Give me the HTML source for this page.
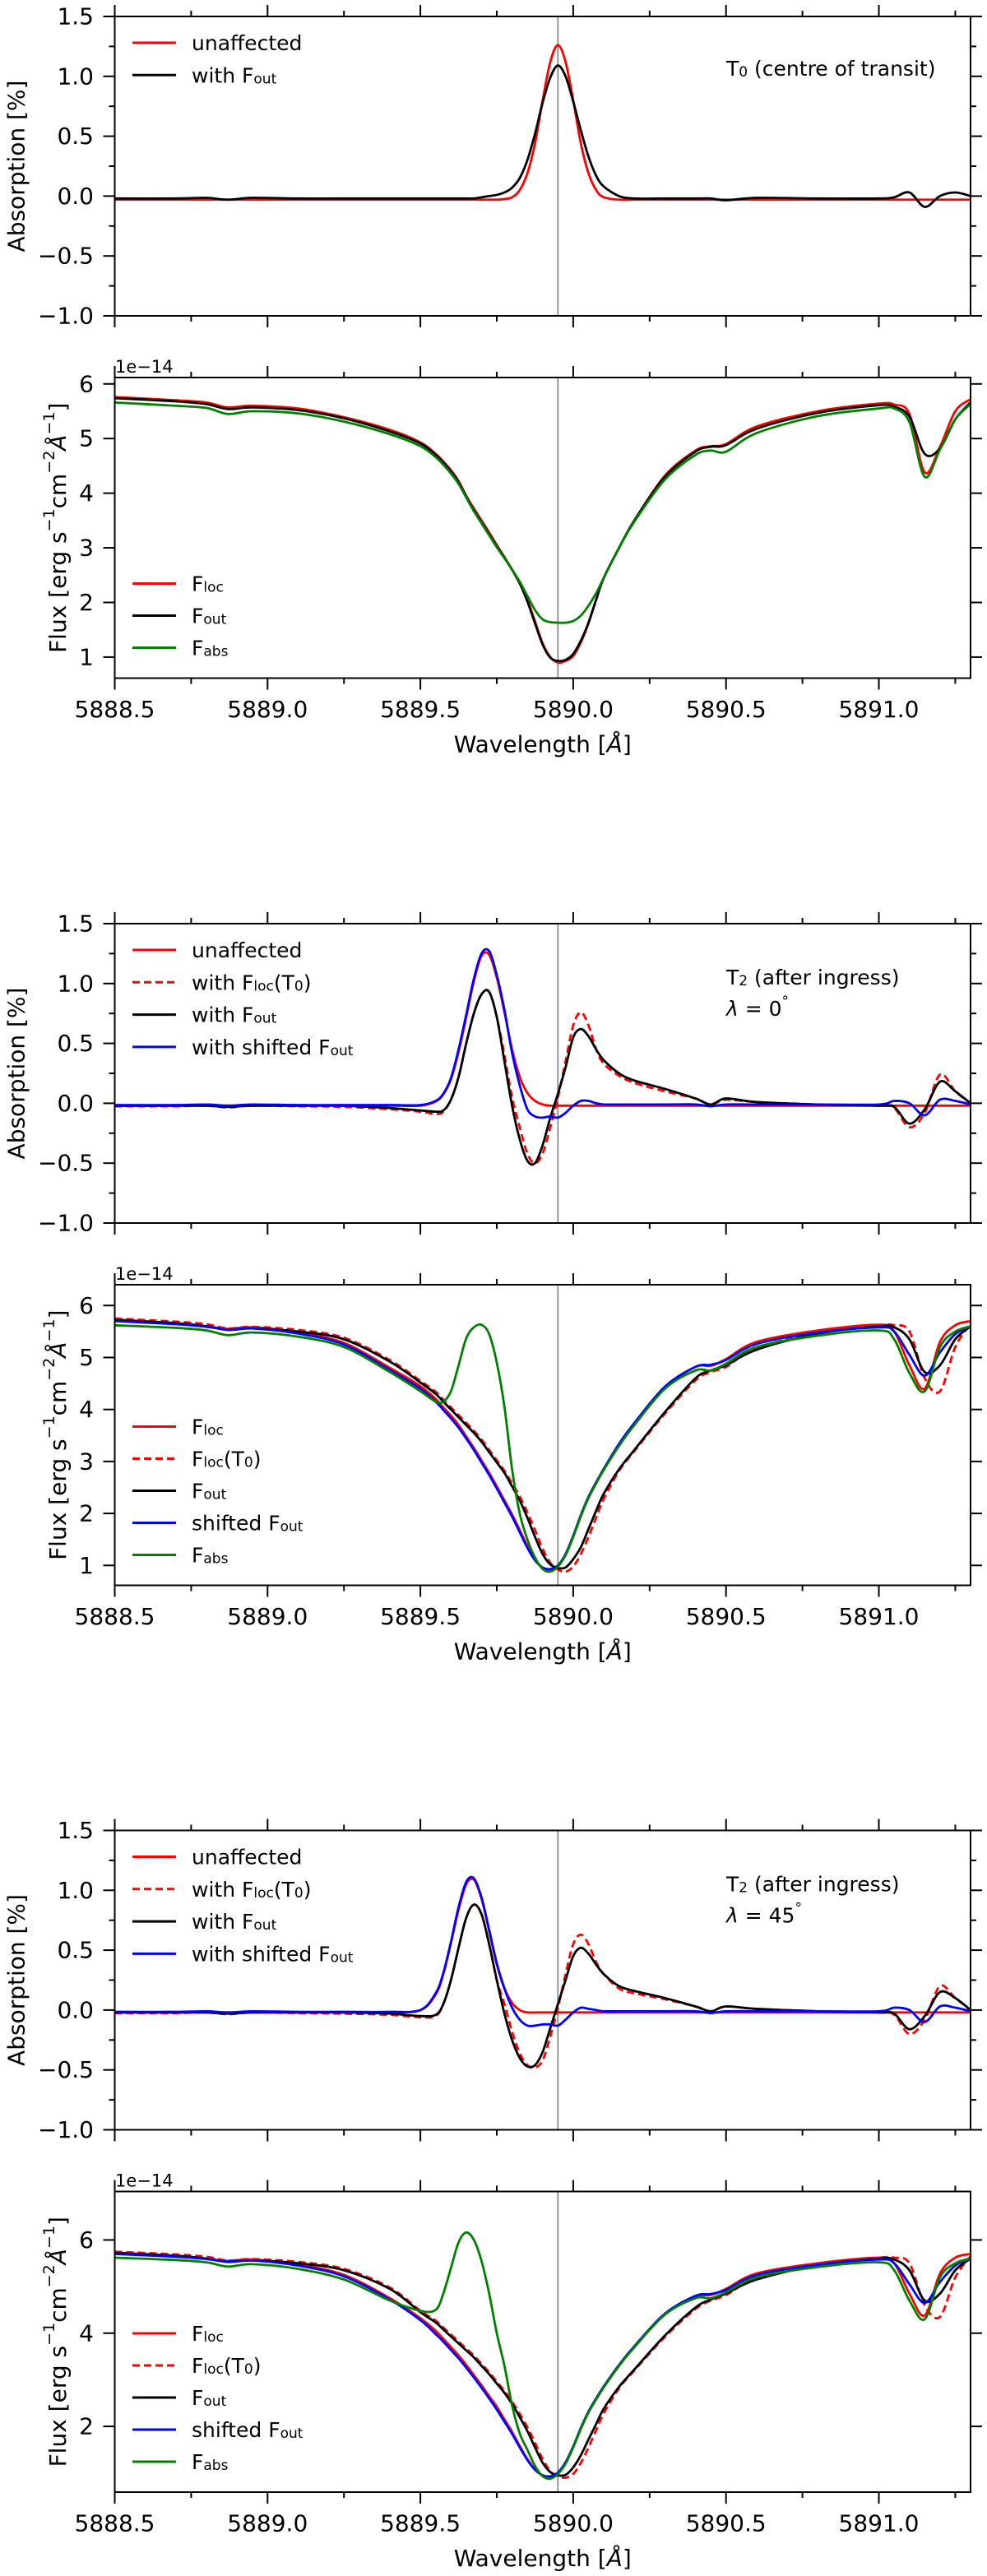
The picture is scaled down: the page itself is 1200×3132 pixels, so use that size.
<!DOCTYPE html>
<html><head><meta charset="utf-8"><title>Absorption and flux spectra</title>
<style>
html,body{margin:0;padding:0;background:#fff;}
svg{display:block;font-family:"DejaVu Sans","Liberation Sans",sans-serif;}
</style></head>
<body>
<svg id="fig" width="1200" height="3132" viewBox="0 0 1200 3132" xmlns="http://www.w3.org/2000/svg"></svg>
<script>
// ---------- data ----------
const wl = [5888.5,5888.7,5888.8,5888.87,5888.95,5889.1,5889.25,5889.4,5889.5,5889.55,
 5889.575,5889.6,5889.625,5889.65,5889.675,5889.7,5889.725,5889.75,5889.775,5889.8,
 5889.825,5889.85,5889.875,5889.9,5889.925,5889.95,5889.975,5890.0,5890.025,5890.05,
 5890.075,5890.1,5890.15,5890.2,5890.3,5890.4,5890.45,5890.5,5890.6,5890.8,
 5891.0,5891.05,5891.1,5891.15,5891.2,5891.25,5891.3];
const xTickMajor = [5888.5,5889.0,5889.5,5890.0,5890.5,5891.0];
const xTickLabels = ["5888.5","5889.0","5889.5","5890.0","5890.5","5891.0"];
const absTicks = [-1.0,-0.5,0.0,0.5,1.0,1.5];
const absTickLabels = ["\u22121.0","\u22120.5","0.0","0.5","1.0","1.5"];
const fluxTicksA = [1,2,3,4,5,6];
const fluxTicksB = [2,4,6];
const markerWl = 5889.95;

// panel 1 (T0)
const p1Unaffected = [-0.03,-0.03,-0.03,-0.03,-0.03,-0.03,-0.03,-0.03,-0.03,-0.03,
 -0.03,-0.03,-0.03,-0.03,-0.03,-0.03,-0.03,-0.03,-0.025,-0.01,
 0.05,0.19,0.44,0.80,1.12,1.26,1.12,0.80,0.44,0.19,
 0.05,-0.01,-0.03,-0.03,-0.03,-0.03,-0.03,-0.03,-0.03,-0.03,
 -0.03,-0.03,-0.03,-0.03,-0.03,-0.03,-0.03];
const p1Fout = [-0.02,-0.02,-0.015,-0.03,-0.015,-0.02,-0.02,-0.02,-0.02,-0.02,
 -0.02,-0.02,-0.02,-0.02,-0.02,-0.01,0.0,0.01,0.03,0.07,
 0.15,0.30,0.52,0.78,0.99,1.09,1.00,0.79,0.55,0.33,
 0.17,0.08,0.0,-0.02,-0.02,-0.02,-0.02,-0.035,-0.015,-0.02,
 -0.02,-0.01,0.03,-0.09,0.0,0.03,0.0];
// panel 2 flux (1e-14)
const p2Floc = [5.76,5.70,5.66,5.57,5.60,5.55,5.39,5.16,4.93,4.72,
 4.58,4.42,4.22,3.95,3.72,3.50,3.28,3.05,2.83,2.60,
 2.35,2.05,1.65,1.25,1.00,0.90,0.93,1.02,1.27,1.62,
 2.05,2.45,3.00,3.50,4.32,4.78,4.86,4.90,5.22,5.50,
 5.64,5.62,5.45,4.38,4.85,5.50,5.72];
const p2Fout = [5.74,5.68,5.63,5.54,5.57,5.52,5.37,5.13,4.91,4.70,
 4.56,4.40,4.20,3.94,3.69,3.47,3.25,3.03,2.82,2.60,
 2.35,2.02,1.62,1.23,0.99,0.93,0.95,1.06,1.30,1.63,
 2.05,2.45,3.00,3.50,4.30,4.76,4.85,4.88,5.18,5.47,
 5.61,5.58,5.40,4.72,4.82,5.35,5.66];
const p2Fabs = [5.66,5.60,5.56,5.45,5.50,5.46,5.31,5.08,4.86,4.66,
 4.52,4.36,4.17,3.92,3.67,3.45,3.23,3.01,2.81,2.60,
 2.38,2.12,1.86,1.69,1.64,1.63,1.63,1.66,1.76,1.94,
 2.17,2.45,3.00,3.48,4.25,4.70,4.78,4.76,5.10,5.41,
 5.55,5.55,5.30,4.30,4.80,5.35,5.63];
// panel 3 (T2, lambda=0)
const p3Unaffected = [-0.02,-0.02,-0.02,-0.02,-0.02,-0.02,-0.02,-0.02,-0.02,0.015,
 0.075,0.20,0.43,0.72,1.02,1.23,1.24,1.05,0.76,0.45,
 0.22,0.086,0.02,-0.01,-0.02,-0.02,-0.02,-0.02,-0.02,-0.02,
 -0.02,-0.02,-0.02,-0.02,-0.02,-0.02,-0.02,-0.02,-0.02,-0.02,
 -0.02,-0.02,-0.02,-0.02,-0.02,-0.02,-0.02];
const p3FlocT0 = [-0.025,-0.025,-0.02,-0.035,-0.02,-0.025,-0.03,-0.05,-0.07,-0.09,
 -0.07,0.03,0.22,0.50,0.75,0.91,0.93,0.72,0.40,0.05,
 -0.20,-0.42,-0.50,-0.42,-0.20,0.05,0.35,0.65,0.76,0.65,
 0.45,0.33,0.23,0.17,0.10,0.04,-0.01,0.03,0.01,-0.01,
 -0.02,-0.04,-0.20,-0.08,0.24,0.10,0.0];
const p3Fout = [-0.02,-0.02,-0.02,-0.03,-0.02,-0.02,-0.02,-0.04,-0.06,-0.07,
 -0.06,0.03,0.22,0.50,0.75,0.91,0.93,0.72,0.35,-0.02,
 -0.30,-0.48,-0.50,-0.35,-0.12,0.08,0.30,0.55,0.62,0.56,
 0.45,0.36,0.25,0.19,0.12,0.04,-0.01,0.04,0.01,-0.01,
 -0.02,-0.03,-0.17,-0.05,0.18,0.10,0.0];
const p3Shifted = [-0.015,-0.015,-0.01,-0.02,-0.01,-0.015,-0.015,-0.015,-0.015,0.02,
 0.08,0.21,0.45,0.74,1.04,1.25,1.27,1.07,0.78,0.42,
 0.15,-0.05,-0.11,-0.12,-0.11,-0.12,-0.08,-0.02,0.02,0.02,
 0.0,-0.01,-0.01,-0.01,-0.01,-0.01,-0.025,-0.01,-0.01,-0.01,
 -0.01,0.02,0.0,-0.10,0.03,0.02,-0.01];
// panel 4 flux
const p4Floc = [5.73,5.66,5.60,5.55,5.58,5.48,5.28,4.80,4.45,4.20,
 4.04,3.88,3.70,3.48,3.26,3.02,2.78,2.52,2.25,1.98,
 1.68,1.38,1.12,0.95,0.90,0.98,1.20,1.55,1.95,2.30,
 2.58,2.84,3.32,3.72,4.42,4.82,4.84,4.97,5.30,5.52,
 5.63,5.50,4.85,4.40,5.30,5.62,5.70];
const p4FlocT0 = [5.75,5.69,5.64,5.56,5.59,5.53,5.38,4.95,4.55,4.34,
 4.19,4.04,3.89,3.74,3.59,3.42,3.22,3.02,2.82,2.58,
 2.33,2.02,1.68,1.32,1.05,0.92,0.88,0.98,1.22,1.55,
 1.92,2.28,2.82,3.20,3.92,4.56,4.72,4.82,5.18,5.48,
 5.62,5.62,5.50,4.60,4.35,5.20,5.65];
const p4Fout = [5.72,5.66,5.60,5.53,5.56,5.50,5.35,4.92,4.52,4.30,
 4.15,4.00,3.85,3.70,3.55,3.38,3.18,2.98,2.78,2.52,
 2.25,1.92,1.55,1.22,1.02,0.95,0.96,1.12,1.35,1.70,
 2.05,2.38,2.85,3.22,3.95,4.60,4.75,4.85,5.15,5.46,
 5.60,5.58,5.35,4.72,4.85,5.35,5.60];
const p4Shifted = [5.70,5.64,5.59,5.54,5.56,5.46,5.25,4.76,4.40,4.15,
 3.99,3.83,3.65,3.44,3.22,2.98,2.74,2.48,2.21,1.94,
 1.64,1.34,1.10,0.96,0.93,1.00,1.22,1.57,1.97,2.32,
 2.60,2.86,3.34,3.74,4.44,4.82,4.86,4.95,5.26,5.48,
 5.58,5.50,5.05,4.65,5.10,5.45,5.60];
const p4Fabs = [5.62,5.57,5.52,5.43,5.48,5.40,5.20,4.72,4.35,4.15,
 4.15,4.35,4.85,5.37,5.58,5.63,5.45,4.90,4.05,2.85,
 2.00,1.50,1.15,0.93,0.88,0.98,1.20,1.55,1.95,2.30,
 2.58,2.84,3.30,3.70,4.40,4.75,4.75,4.88,5.20,5.42,
 5.52,5.35,4.70,4.35,5.20,5.50,5.60];
// panel 5 (T2, lambda=45)
const p5Unaffected = [-0.02,-0.02,-0.02,-0.02,-0.02,-0.02,-0.02,-0.02,0.0,0.13,
 0.30,0.56,0.84,1.05,1.09,0.93,0.66,0.38,0.18,0.06,
 0.0,-0.02,-0.02,-0.02,-0.02,-0.02,-0.02,-0.02,-0.02,-0.02,
 -0.02,-0.02,-0.02,-0.02,-0.02,-0.02,-0.02,-0.02,-0.02,-0.02,
 -0.02,-0.02,-0.02,-0.02,-0.02,-0.02,-0.02];
const p5FlocT0 = [-0.025,-0.025,-0.02,-0.035,-0.02,-0.025,-0.03,-0.04,-0.06,-0.05,
 0.05,0.25,0.52,0.77,0.88,0.80,0.55,0.25,0.05,-0.18,
 -0.36,-0.46,-0.48,-0.42,-0.22,0.02,0.30,0.55,0.63,0.55,
 0.40,0.30,0.18,0.14,0.09,0.03,-0.01,0.03,0.01,-0.01,
 -0.02,-0.04,-0.20,-0.08,0.20,0.10,0.0];
const p5Fout = [-0.02,-0.02,-0.02,-0.03,-0.02,-0.02,-0.02,-0.03,-0.05,-0.04,
 0.05,0.25,0.52,0.77,0.88,0.80,0.55,0.25,-0.03,-0.25,
 -0.40,-0.47,-0.46,-0.35,-0.15,0.05,0.25,0.45,0.52,0.47,
 0.38,0.30,0.20,0.16,0.10,0.03,-0.01,0.03,0.01,-0.01,
 -0.02,-0.03,-0.16,-0.05,0.15,0.10,0.0];
const p5Shifted = [-0.015,-0.015,-0.01,-0.02,-0.01,-0.015,-0.015,-0.015,0.0,0.14,
 0.31,0.57,0.86,1.07,1.10,0.94,0.67,0.39,0.18,0.02,
 -0.08,-0.13,-0.13,-0.12,-0.12,-0.13,-0.08,-0.02,0.02,0.01,
 0.0,-0.01,-0.01,-0.01,-0.01,-0.01,-0.025,-0.01,-0.01,-0.01,
 -0.01,0.02,0.0,-0.10,0.03,0.02,-0.01];
// panel 6 flux
const p6Floc = [5.73,5.66,5.60,5.55,5.58,5.47,5.25,4.75,4.32,4.05,
 3.88,3.70,3.52,3.32,3.10,2.88,2.65,2.42,2.15,1.88,
 1.58,1.30,1.08,0.95,0.92,1.00,1.22,1.55,1.95,2.30,
 2.58,2.84,3.30,3.70,4.40,4.78,4.82,4.95,5.28,5.50,
 5.62,5.50,4.85,4.38,5.28,5.62,5.70];
const p6FlocT0 = [5.75,5.69,5.64,5.56,5.59,5.53,5.38,4.98,4.48,4.27,
 4.12,3.97,3.82,3.67,3.52,3.34,3.16,2.96,2.76,2.53,
 2.27,1.98,1.65,1.30,1.04,0.93,0.90,0.98,1.22,1.55,
 1.92,2.28,2.82,3.20,3.92,4.52,4.70,4.82,5.18,5.48,
 5.62,5.62,5.50,4.60,4.35,5.20,5.65];
const p6Fout = [5.72,5.66,5.60,5.53,5.56,5.50,5.35,4.95,4.45,4.23,
 4.08,3.93,3.78,3.63,3.48,3.30,3.12,2.92,2.72,2.48,
 2.20,1.90,1.55,1.22,1.02,0.95,0.96,1.12,1.38,1.72,
 2.05,2.38,2.85,3.22,3.95,4.55,4.72,4.85,5.15,5.46,
 5.60,5.58,5.35,4.70,4.85,5.35,5.60];
const p6Shifted = [5.70,5.64,5.59,5.54,5.56,5.45,5.22,4.72,4.28,3.98,
 3.82,3.64,3.46,3.26,3.05,2.83,2.60,2.36,2.10,1.84,
 1.55,1.28,1.07,0.95,0.93,1.01,1.23,1.57,1.97,2.32,
 2.60,2.86,3.32,3.72,4.42,4.80,4.84,4.93,5.25,5.47,
 5.58,5.50,5.05,4.65,5.10,5.45,5.60];
const p6Fabs = [5.62,5.57,5.52,5.43,5.48,5.38,5.15,4.70,4.48,4.50,
 4.85,5.40,5.95,6.16,6.00,5.55,4.85,4.00,3.30,2.45,
 1.85,1.50,1.15,0.93,0.88,0.98,1.20,1.55,1.95,2.30,
 2.58,2.84,3.30,3.70,4.40,4.75,4.75,4.88,5.20,5.42,
 5.52,5.35,4.70,4.30,5.20,5.50,5.60];

// ---------- layout ----------
const NS = "http://www.w3.org/2000/svg";
const svg = document.getElementById("fig");
const X0 = 139.5, X1 = 1180, WMIN = 5888.5, WMAX = 5891.3;
function xs(w){ return X0 + (w - WMIN) / (WMAX - WMIN) * (X1 - X0); }
function mk(tag, parent){ const e = document.createElementNS(NS, tag); parent.appendChild(e); return e; }

const RED="#ff0000", BLK="#000000", BLU="#0000ff", GRN="#008000";
const LEG = 25;

const blocks = [
 {top:20, fluxMin:0.615, fluxMax:6.117, fTicks:fluxTicksA, note:["T","0"," (centre of transit)"], lam:null,
  abs:[["unaffected",p1Unaffected,RED,false],["with F_out",p1Fout,BLK,false]],
  flux:[["F_loc",p2Floc,RED,false],["F_out",p2Fout,BLK,false],["F_abs",p2Fabs,GRN,false]]},
 {top:1123, fluxMin:0.617, fluxMax:6.40, fTicks:fluxTicksA, note:["T","2"," (after ingress)"], lam:"0",
  abs:[["unaffected",p3Unaffected,RED,false],["with F_loc(T0)",p3FlocT0,RED,true],["with F_out",p3Fout,BLK,false],["with shifted F_out",p3Shifted,BLU,false]],
  flux:[["F_loc",p4Floc,RED,false],["F_loc(T0)",p4FlocT0,RED,true],["F_out",p4Fout,BLK,false],["shifted F_out",p4Shifted,BLU,false],["F_abs",p4Fabs,GRN,false]]},
 {top:2225.5, fluxMin:0.59, fluxMax:7.04, fTicks:fluxTicksB, note:["T","2"," (after ingress)"], lam:"45",
  abs:[["unaffected",p5Unaffected,RED,false],["with F_loc(T0)",p5FlocT0,RED,true],["with F_out",p5Fout,BLK,false],["with shifted F_out",p5Shifted,BLU,false]],
  flux:[["F_loc",p6Floc,RED,false],["F_loc(T0)",p6FlocT0,RED,true],["F_out",p6Fout,BLK,false],["shifted F_out",p6Shifted,BLU,false],["F_abs",p6Fabs,GRN,false]]}
];

function smoothPath(pts){
  let d = "M" + pts[0][0].toFixed(2) + "," + pts[0][1].toFixed(2);
  for (let i = 0; i < pts.length - 1; i++){
    const p0 = pts[Math.max(0,i-1)], p1 = pts[i], p2 = pts[i+1], p3 = pts[Math.min(pts.length-1,i+2)];
    const c1x = p1[0] + (p2[0]-p0[0])/6, c1y = p1[1] + (p2[1]-p0[1])/6;
    const c2x = p2[0] - (p3[0]-p1[0])/6, c2y = p2[1] - (p3[1]-p1[1])/6;
    d += "C"+c1x.toFixed(2)+","+c1y.toFixed(2)+" "+c2x.toFixed(2)+","+c2y.toFixed(2)+" "+p2[0].toFixed(2)+","+p2[1].toFixed(2);
  }
  return d;
}

function labelText(parent, x, y, label, size){
  const t = mk("text", parent);
  t.setAttribute("x", x); t.setAttribute("y", y);
  t.setAttribute("font-size", size);
  t.setAttribute("dominant-baseline", "central");
  const parts = label.split(/(F_loc|F_out|F_abs|T0)/);
  parts.forEach(p => {
    if (!p) return;
    if (p === "F_loc" || p === "F_out" || p === "F_abs" || p === "T0"){
      const a = mk("tspan", t); a.textContent = p[0];
      const b = mk("tspan", t); b.textContent = p === "T0" ? "0" : p.slice(2);
      b.setAttribute("font-size", Math.round(size*0.68)); b.setAttribute("dy", "5");
      const c = mk("tspan", t); c.textContent = "\u200b"; c.setAttribute("dy", "-5");
    } else {
      const a = mk("tspan", t); a.textContent = p;
    }
  });
  return t;
}

function drawPanel(g, top, bottom, yMin, yMax, yTicks, yTickLabs, yMinor, series, showXLabels, legendTopMode, clipId){
  function ys(v){ return bottom - (v - yMin) / (yMax - yMin) * (bottom - top); }
  const cp = mk("clipPath", g); cp.setAttribute("id", clipId);
  const cr = mk("rect", cp); cr.setAttribute("x", X0); cr.setAttribute("y", top); cr.setAttribute("width", X1-X0); cr.setAttribute("height", bottom-top);
  const vl = mk("line", g);
  
  
  vl.setAttribute("x1", xs(markerWl)); vl.setAttribute("x2", xs(markerWl));
  vl.setAttribute("y1", top); vl.setAttribute("y2", bottom);
  vl.setAttribute("stroke", "#808080"); vl.setAttribute("stroke-width", "1.6");
  const sg = mk("g", g); sg.setAttribute("clip-path", "url(#"+clipId+")");
  series.forEach(s => {
    const pts = wl.map((w,i) => [xs(w), ys(s[1][i])]);
    const p = mk("path", sg);
    
    
    p.setAttribute("d", smoothPath(pts));
    p.setAttribute("fill", "none"); p.setAttribute("stroke", s[2]); p.setAttribute("stroke-width", "2.8");
    p.setAttribute("stroke-linejoin", "round");
    if (s[3]) p.setAttribute("stroke-dasharray", "9,5");
  });
  const fr = mk("rect", g);
  
  
  fr.setAttribute("x", X0); fr.setAttribute("y", top); fr.setAttribute("width", X1-X0); fr.setAttribute("height", bottom-top);
  fr.setAttribute("fill", "none"); fr.setAttribute("stroke", "#000"); fr.setAttribute("stroke-width", "2");
  const tk = mk("g", g); tk.setAttribute("stroke", "#000"); tk.setAttribute("stroke-width", "2");
  for (let w = 5888.5; w <= 5891.3 + 1e-6; w += 0.25){
    const major = Math.abs((w - 5888.5) / 0.5 - Math.round((w - 5888.5) / 0.5)) < 1e-6;
    const L = major ? 14 : 7;
    const x = xs(w);
    [[bottom, bottom+L],[top, top-L]].forEach(yy => {
      const l = mk("line", tk); l.setAttribute("x1", x); l.setAttribute("x2", x); l.setAttribute("y1", yy[0]); l.setAttribute("y2", yy[1]);
    });
  }
  yTicks.forEach(v => {
    const y = ys(v);
    [[X0, X0-14],[X1, X1+14]].forEach(xx => {
      const l = mk("line", tk); l.setAttribute("x1", xx[0]); l.setAttribute("x2", xx[1]); l.setAttribute("y1", y); l.setAttribute("y2", y);
    });
  });
  yMinor.forEach(v => {
    const y = ys(v);
    [[X0, X0-7],[X1, X1+7]].forEach(xx => {
      const l = mk("line", tk); l.setAttribute("x1", xx[0]); l.setAttribute("x2", xx[1]); l.setAttribute("y1", y); l.setAttribute("y2", y);
    });
  });
  yTicks.forEach((v,i) => {
    const t = mk("text", g);
    
    
    t.setAttribute("x", 114); t.setAttribute("y", ys(v)); t.setAttribute("font-size", "28");
    t.setAttribute("text-anchor", "end"); t.setAttribute("dominant-baseline", "central");
    t.textContent = yTickLabs[i];
  });
  if (showXLabels){
    xTickMajor.forEach((w,i) => {
      const t = mk("text", g);
      
      
      t.setAttribute("x", xs(w)); t.setAttribute("y", bottom + 38); t.setAttribute("font-size", "28");
      t.setAttribute("text-anchor", "middle"); t.setAttribute("dominant-baseline", "central");
      t.textContent = xTickLabels[i];
    });
    const xl = mk("text", g);
    
    
    xl.setAttribute("x", (X0+X1)/2); xl.setAttribute("y", bottom + 80); xl.setAttribute("font-size", "28");
    xl.setAttribute("text-anchor", "middle"); xl.setAttribute("dominant-baseline", "central");
    const a = mk("tspan", xl); a.textContent = "Wavelength [";
    const b = mk("tspan", xl); b.textContent = "\u00c5"; b.setAttribute("font-style", "italic");
    const c = mk("tspan", xl); c.textContent = "]";
  }
  const lg = mk("g", g);
  
  
  series.forEach((s,i) => {
    const y = legendTopMode ? top + 32 + 39.3*i : bottom - 37 - 39*(series.length-1-i);
    const l = mk("line", lg);
    
    
    l.setAttribute("x1", 161); l.setAttribute("x2", 214); l.setAttribute("y1", y); l.setAttribute("y2", y);
    l.setAttribute("stroke", s[2]); l.setAttribute("stroke-width", "3");
    if (s[3]) l.setAttribute("stroke-dasharray", "9,5");
    const t = labelText(lg, 233, y, s[0], LEG);
    
    
  });
  return ys;
}

blocks.forEach((b, bi) => {
  const g = mk("g", svg);
  
  
  const aTop = b.top, aBot = b.top + 364;
  const fTop = b.top + 439, fBot = b.top + 804.5;
  const ga = mk("g", g);
  
  
  drawPanel(ga, aTop, aBot, -1.0, 1.5, absTicks, absTickLabels, [-0.75,-0.25,0.25,0.75,1.25], b.abs, false, true, "clipA"+bi);
  const ya = mk("text", ga);
  
  
  const cy = (aTop + aBot)/2;
  ya.setAttribute("x", 20); ya.setAttribute("y", cy); ya.setAttribute("font-size", "28");
  ya.setAttribute("text-anchor", "middle"); ya.setAttribute("dominant-baseline", "central");
  ya.setAttribute("transform", "rotate(-90 20 " + cy + ")");
  ya.textContent = "Absorption [%]";
  const n1 = labelText(ga, 883, aTop + (b.lam === null ? 63 : 65), "", LEG);
  
  
  const n1a = mk("tspan", n1); n1a.textContent = b.note[0];
  const n1b = mk("tspan", n1); n1b.textContent = b.note[1]; n1b.setAttribute("font-size", "17"); n1b.setAttribute("dy", "5");
  const n1c = mk("tspan", n1); n1c.textContent = b.note[2]; n1c.setAttribute("dy", "-5");
  if (b.lam !== null){
    const n2 = mk("text", ga);
    
    
    n2.setAttribute("x", 883); n2.setAttribute("y", aTop + 103); n2.setAttribute("font-size", LEG);
    n2.setAttribute("dominant-baseline", "central");
    const l1 = mk("tspan", n2); l1.textContent = "\u03bb"; l1.setAttribute("font-style", "italic");
    const l2 = mk("tspan", n2); l2.textContent = " = " + b.lam;
    const l3 = mk("tspan", n2); l3.textContent = "\u00b0"; l3.setAttribute("font-size", "17"); l3.setAttribute("dy", "-8");
  }
  const gf = mk("g", g);
  
  
  drawPanel(gf, fTop, fBot, b.fluxMin, b.fluxMax, b.fTicks, b.fTicks.map(String), [], b.flux, true, false, "clipF"+bi);
  const off = mk("text", gf);
  
  
  off.setAttribute("x", 140); off.setAttribute("y", fTop - 6); off.setAttribute("font-size", "21");
  off.textContent = "1e\u221214";
  const yf = mk("text", gf);
  
  
  const fcy = (fTop + fBot)/2;
  yf.setAttribute("x", 70); yf.setAttribute("y", fcy); yf.setAttribute("font-size", "28");
  yf.setAttribute("text-anchor", "middle"); yf.setAttribute("dominant-baseline", "central");
  yf.setAttribute("transform", "rotate(-90 70 " + fcy + ")");
  [["Flux [erg s",0],["\u22121",1],["cm",0],["\u22122",1],["\u00c5",0],["\u22121",1],["]",0]].forEach((p, i, arr) => {
    const ts = mk("tspan", yf);
    ts.textContent = p[0];
    if (p[1]){ ts.setAttribute("font-size", "19"); ts.setAttribute("dy", "-10"); }
    else if (i > 0 && arr[i-1][1]) { ts.setAttribute("dy", "10"); }
    if (p[0] === "\u00c5") ts.setAttribute("font-style", "italic");
  });
});
</script>
</body></html>
